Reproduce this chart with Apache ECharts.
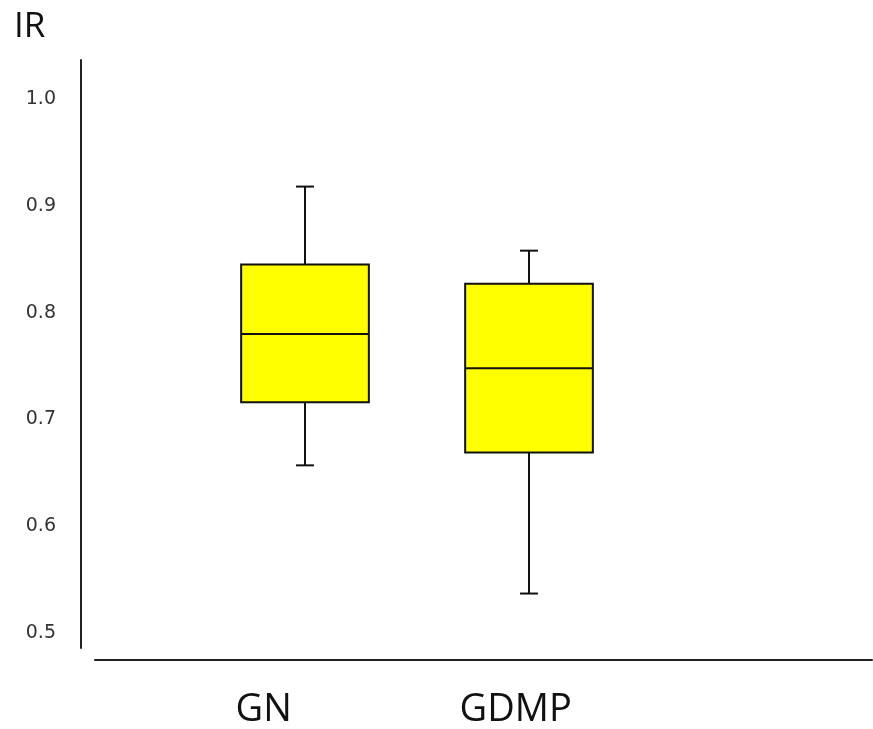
<!DOCTYPE html>
<html>
<head>
<meta charset="utf-8">
<script src="https://cdn.jsdelivr.net/npm/echarts@6/dist/echarts.min.js"></script>
<style>
  html, body { margin: 0; padding: 0; background: #fff; }
  #chart { width: 873px; height: 729px; }
</style>
</head>
<body>
<div id="chart"></div>
<script>
const categories = ['GN', 'GDMP'];
const mins = [0.657, 0.537];
const q1s = [0.716, 0.669];
const medians = [0.780, 0.748];
const q3s = [0.845, 0.827];
const maxs = [0.918, 0.858];
const yTicks = [0.5, 0.6, 0.7, 0.8, 0.9, 1.0];

(function () {
  const boxWidth = 0.57;   // in x units
  const capWidth = 0.08;

  function renderBox(params, api) {
    const x = api.value(0);
    const cMin = api.coord([x, api.value(1)]);
    const cQ1 = api.coord([x, api.value(2)]);
    const cMed = api.coord([x, api.value(3)]);
    const cQ3 = api.coord([x, api.value(4)]);
    const cMax = api.coord([x, api.value(5)]);
    const bw = api.size([boxWidth, 0])[0];
    const cw = api.size([capWidth, 0])[0];
    const cx = Math.round(cMed[0]);
    const line = { stroke: '#111', lineWidth: 2 };
    return {
      type: 'group',
      children: [
        { type: 'line', shape: { x1: cx, y1: cMax[1], x2: cx, y2: cQ3[1] }, style: line },
        { type: 'line', shape: { x1: cx, y1: cQ1[1], x2: cx, y2: cMin[1] }, style: line },
        { type: 'line', shape: { x1: cx - cw / 2, y1: cMax[1], x2: cx + cw / 2, y2: cMax[1] }, style: line },
        { type: 'line', shape: { x1: cx - cw / 2, y1: cMin[1], x2: cx + cw / 2, y2: cMin[1] }, style: line },
        {
          type: 'rect',
          shape: { x: cx - bw / 2, y: cQ3[1], width: bw, height: cQ1[1] - cQ3[1] },
          style: { fill: '#ffff00', stroke: '#111', lineWidth: 2 }
        },
        { type: 'line', shape: { x1: cx - bw / 2, y1: cMed[1], x2: cx + bw / 2, y2: cMed[1] }, style: line }
      ]
    };
  }

  const option = {
    animation: false,
    backgroundColor: '#fff',
    title: {
      text: 'IR',
      left: 9,
      top: 5,
      textStyle: { fontFamily: 'Open Sans', fontSize: 35, fontWeight: 'normal', color: '#111' }
    },
    grid: [
      { left: 81, right: 1, top: 60, bottom: 81 },
      { left: 95, right: 1, top: 650, bottom: 69 }
    ],
    xAxis: [
      {
        type: 'value',
        gridIndex: 0,
        min: 0,
        max: 3.531,
        axisLine: { show: false },
        axisTick: { show: false },
        splitLine: { show: false },
        axisLabel: {
          customValues: categories.map((c, i) => i + 1 - 0.31),
          formatter: v => categories[Math.round(v + 0.31) - 1] || '',
          align: 'left',
          margin: 43,
          fontFamily: 'Open Sans',
          fontSize: 38,
          color: '#111'
        }
      },
      {
        type: 'value',
        gridIndex: 1,
        axisLine: { show: true, lineStyle: { color: '#222', width: 2 } },
        axisTick: { show: false },
        axisLabel: { show: false },
        splitLine: { show: false }
      }
    ],
    yAxis: [
      {
        type: 'value',
        gridIndex: 0,
        min: 0.486,
        max: 1.0365,
        axisLine: { show: true, lineStyle: { color: '#222', width: 2 } },
        axisTick: { show: false },
        splitLine: { show: false },
        axisLabel: {
          customValues: yTicks,
          formatter: v => v.toFixed(1),
          margin: 25,
          fontFamily: 'DejaVu Sans',
          fontSize: 19,
          color: '#333'
        }
      },
      {
        type: 'value',
        gridIndex: 1,
        show: false
      }
    ],
    series: [
      {
        type: 'custom',
        xAxisIndex: 0,
        yAxisIndex: 0,
        renderItem: renderBox,
        encode: { x: 0, y: [1, 2, 3, 4, 5] },
        data: categories.map((c, i) => [i + 1, mins[i], q1s[i], medians[i], q3s[i], maxs[i]])
      }
    ]
  };

  const chart = echarts.init(document.getElementById('chart'));
  chart.setOption(option);
})();
</script>
</body>
</html>
